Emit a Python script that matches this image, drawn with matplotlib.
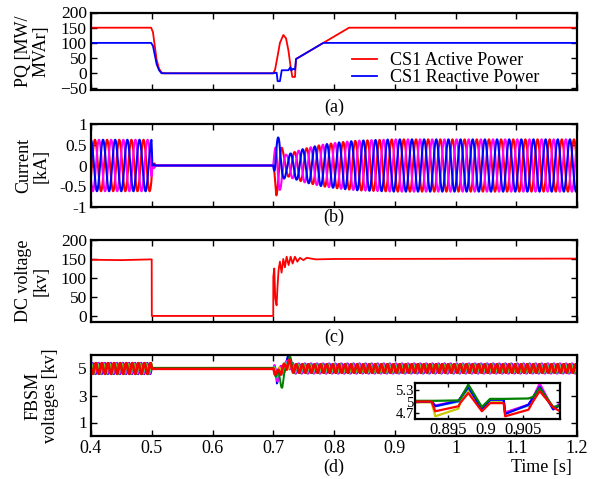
import numpy as np
import matplotlib
matplotlib.use('Agg')
import matplotlib.pyplot as plt

plt.rcParams['font.family'] = ['Liberation Serif', 'DejaVu Serif']
plt.rcParams['font.size'] = 13

# ---------------- (a) CS1 powers (MW / MVAr) ----------------
p_t = [0.4, 0.499, 0.502, 0.505, 0.508, 0.512, 0.516, 0.520, 0.700, 0.703, 0.707,
       0.711, 0.7166, 0.721, 0.725, 0.728, 0.7314, 0.7358, 0.7375, 0.8248, 1.2]
p_v = [150, 150, 135, 90, 45, 15, 3, 0, 0, 12, 55,
       100, 126, 115, 75, 30, -12, -12, 47, 150, 150]
q_t = [0.4, 0.499, 0.502, 0.505, 0.508, 0.512, 0.516, 0.700, 0.7056, 0.7072, 0.711,
       0.714, 0.725, 0.728, 0.7297, 0.7325, 0.7358, 0.7375, 0.7824, 1.2]
q_v = [100, 100, 90, 60, 30, 10, 0, 0, 2, -26, -26,
       10, 10, 20, 9, 15, 12, 47, 100, 100]

# ---------------- (b) three-phase current (kA) ----------------
cur_freq = 50.0
cur_env_t = [0.4, 0.4995, 0.501, 0.503, 0.5045, 0.506, 0.700, 0.702, 0.705, 0.710,
             0.716, 0.722, 0.730, 0.750, 0.780, 0.810, 0.840, 0.900, 1.2]
cur_env_a = [0.62, 0.62, 0.0, 0.06, 0.06, 0.0, 0.0, 0.30, 0.72, 0.65,
             0.35, 0.25, 0.30, 0.40, 0.50, 0.56, 0.60, 0.63, 0.63]
cur_phase_pre = 1.634      # blue phase before 0.6 s
cur_phase_post = -1.047    # blue phase after 0.6 s
cur_colors = ['#ff0000', '#ff00ff', '#0000ff']
cur_shift = [-2.094, 2.094, 0.0]

# ---------------- (c) DC voltage (kV) ----------------
dc_t = [0.4, 0.45, 0.4999, 0.5001, 0.700, 0.7001, 0.7017, 0.7033, 0.7055, 0.707,
        0.7088, 0.711, 0.7137, 0.7165, 0.7192, 0.722, 0.7253, 0.7286, 0.7319,
        0.7357, 0.7396, 0.744, 0.7495, 0.755, 0.770, 0.800, 1.2]
dc_v = [148, 147, 149, 0, 0, 103, 125, 46, 28, 77,
        121, 143, 114, 150, 128, 156, 134, 156, 138,
        156, 143, 153, 147, 153, 149, 150, 151]

# ---------------- (d) FBSM capacitor voltages (kV) ----------------
sm_colors = ['#0000ff', '#ff00ff', '#00c8c8', '#c8c800', '#008000', '#ff0000']
sm_freq = 100.0
sm_phase = [0.0, 0.6, 1.2, 1.9, 2.5, 3.1]
sm_amp_pre = [0.42, 0.40, 0.36, 0.38, 0.42, 0.40]
sm_amp_post = [0.36, 0.38, 0.32, 0.30, 0.34, 0.32]
sm_flat = [5.0, 5.0, 5.0, 5.0, 5.05, 4.97]
sm_tr_t = [[0.700, 0.704, 0.706, 0.708, 0.712, 0.722, 0.725, 0.728, 0.733],
           [0.700, 0.704, 0.707, 0.710, 0.714, 0.722, 0.725, 0.728, 0.733],
           [0.700, 0.704, 0.708, 0.711, 0.714, 0.722, 0.725, 0.728, 0.733],
           [0.700, 0.704, 0.707, 0.710, 0.714, 0.722, 0.725, 0.728, 0.733],
           [0.700, 0.706, 0.711, 0.715, 0.719, 0.722, 0.726, 0.729, 0.733],
           [0.700, 0.704, 0.707, 0.710, 0.714, 0.722, 0.725, 0.728, 0.733]]
sm_tr_v = [[0.0, -0.3, -0.9, -0.4, -0.2, 0.2, 0.9, 0.3, 0.0],
           [0.0, -0.2, -0.6, -0.3, -0.1, 0.2, 0.5, 0.2, 0.0],
           [0.0, -0.2, -0.5, -0.8, -0.2, 0.2, 0.4, 0.2, 0.0],
           [0.0, -0.1, -0.3, -0.2, -0.1, 0.1, 0.3, 0.1, 0.0],
           [0.0, -0.4, -0.8, -1.2, -0.5, 0.3, 0.8, 0.4, 0.0],
           [0.0, -0.2, -0.5, -0.2, -0.1, 0.2, 0.6, 0.2, 0.0]]

# inset (zoom of FBSM voltages)
in_t = [0.8906, 0.8928, 0.8933, 0.8964, 0.8966, 0.8977, 0.8995, 0.9006, 0.9024,
        0.9026, 0.9057, 0.9063, 0.9072, 0.9090, 0.9099]
in_v = {
    '#c8c800': [4.98, 4.98, 4.62, 4.82, 4.98, 5.30, 4.82, 5.02, 5.02, 4.72, 4.90, 5.06, 5.34, 4.84, 4.88],
    '#00c8c8': [4.99, 5.00, 4.88, 5.00, 5.06, 5.36, 4.82, 5.04, 5.04, 4.70, 4.90, 5.08, 5.36, 4.82, 4.90],
    '#ff00ff': [5.00, 5.01, 4.90, 5.02, 5.08, 5.40, 4.84, 5.06, 5.06, 4.72, 4.92, 5.10, 5.47, 4.80, 4.96],
    '#0000ff': [5.00, 5.00, 4.88, 5.02, 5.08, 5.38, 4.80, 5.05, 5.05, 4.68, 4.92, 5.10, 5.38, 4.80, 4.92],
    '#008000': [5.02, 5.02, 5.02, 5.03, 5.06, 5.44, 4.86, 5.07, 5.07, 5.07, 5.08, 5.12, 5.35, 4.86, 4.90],
    '#ff0000': [5.00, 5.00, 4.75, 4.88, 4.96, 5.22, 4.75, 4.96, 4.96, 4.62, 4.79, 5.00, 5.27, 4.85, 4.75],
}

x_ticks = [0.4, 0.5, 0.6, 0.7, 0.8, 0.9, 1.0, 1.1, 1.2]
x_ticklabels = ['0.4', '0.5', '0.6', '0.7', '0.8', '0.9', '1', '1.1', '1.2']

# ================= figure =================
W, H = 609, 479
fig = plt.figure(figsize=(W / 100, H / 100), dpi=100)


def ax_at(l, t, r, b):
    return fig.add_axes([l / W, 1 - b / H, (r - l) / W, (b - t) / H])


axA = ax_at(91, 12.5, 577, 90)
axB = ax_at(91, 124, 577, 207)
axC = ax_at(91, 240, 577, 322)
axD = ax_at(91, 355, 577, 436)


def style(ax):
    ax.set_xlim(0.4, 1.2)
    ax.set_xticks(x_ticks)
    ax.tick_params(direction='in', top=True, right=True, length=4, width=1, pad=3)
    ax.tick_params(axis='y', labelsize=12.5)
    ax.tick_params(axis='x', labelsize=13)
    for s in ax.spines.values():
        s.set_linewidth(1.6)


for ax in (axA, axB, axC, axD):
    style(ax)
for ax in (axA, axB, axC):
    ax.set_xticklabels([])
axD.set_xticklabels(x_ticklabels)

# (a)
axA.plot(p_t, p_v, color='#ff0000', lw=1.3, label='CS1 Active Power')
axA.plot(q_t, q_v, color='#0000ff', lw=1.3, label='CS1 Reactive Power')
axA.set_ylim(-55, 200)
axA.set_yticks([-50, 0, 50, 100, 150, 200])
axA.set_ylabel('PQ [MW/\nMVAr]', linespacing=1.05)
axA.legend(loc='upper left', bbox_to_anchor=(352 / W, 1 - 52 / H),
           bbox_transform=fig.transFigure, frameon=False, handlelength=1.4,
           handletextpad=0.7, labelspacing=0.0, borderpad=0, borderaxespad=0)

# (b)
t = np.linspace(0.4, 1.2, 16001)
env = np.interp(t, cur_env_t, cur_env_a)
phase = np.where(t < 0.6, cur_phase_pre, cur_phase_post)
for c, sh in zip(cur_colors, cur_shift):
    axB.plot(t, env * np.sin(2 * np.pi * cur_freq * t + phase + sh), color=c, lw=1.5)
axB.set_ylim(-1, 1)
axB.set_yticks([-1, -0.5, 0, 0.5, 1])
axB.set_yticklabels(['-1', '-0.5', '0', '0.5', '1'])
axB.set_ylabel('Current\n[kA]', linespacing=1.05)

# (c)
axC.plot(dc_t, dc_v, color='#ff0000', lw=1.3)
axC.set_ylim(-16, 200)
axC.set_yticks([0, 50, 100, 150, 200])
axC.set_ylabel('DC voltage\n[kv]', linespacing=1.05)

# (d)
env_pre = np.interp(t, [0.4, 0.4995, 0.5005, 1.2], [1, 1, 0, 0])
env_post = np.interp(t, [0.4, 0.700, 0.702, 1.2], [0, 0, 1, 1])
for i, c in enumerate(sm_colors):
    rip = np.sin(2 * np.pi * sm_freq * t + sm_phase[i])
    tr = np.interp(t, sm_tr_t[i], sm_tr_v[i])
    v = np.full_like(t, 5.0)
    v = v + np.where((t >= 0.5005) & (t <= 0.700), sm_flat[i] - 5.0, 0.0)
    v = v + env_pre * sm_amp_pre[i] * rip + env_post * sm_amp_post[i] * rip + tr
    axD.plot(t, v, color=c, lw=1.8 if c == '#ff0000' else 1.4)
axD.set_ylim(0, 6)
axD.set_yticks([1, 3, 5])
axD.set_ylabel('FBSM\nvoltages [kv]', linespacing=1.05)
axD.set_xlabel('Time [s]')
axD.xaxis.set_label_coords((572 - 91) / 486, -0.28)
axD.xaxis.label.set_ha('right')

for ax, x in ((axA, -0.085), (axB, -0.085), (axC, -0.085), (axD, -0.065)):
    ax.yaxis.set_label_coords(x, 0.5)

# inset
axI = ax_at(415, 383, 560, 419)
for c, vals in in_v.items():
    axI.plot(in_t, vals, color=c, lw=1.6)
axI.set_xlim(0.8906, 0.9099)
axI.set_ylim(4.55, 5.48)
axI.set_xticks([0.895, 0.9, 0.905])
axI.set_xticklabels(['0.895', '0.9', '0.905'])
axI.set_yticks([4.7, 5.0, 5.3])
axI.set_yticklabels(['4.7', '5', '5.3'])
axI.tick_params(direction='in', top=True, right=True, length=3, width=1, pad=2)
axI.tick_params(axis='x', labelsize=12)
axI.tick_params(axis='y', labelsize=10.5, pad=1)
for s in axI.spines.values():
    s.set_linewidth(1.6)

# panel captions
for lbl, y in (('(a)', 107), ('(b)', 217), ('(c)', 337), ('(d)', 467)):
    fig.text(334 / W, 1 - y / H, lbl, ha='center', va='center')

fig.savefig('out.png', dpi=100)
